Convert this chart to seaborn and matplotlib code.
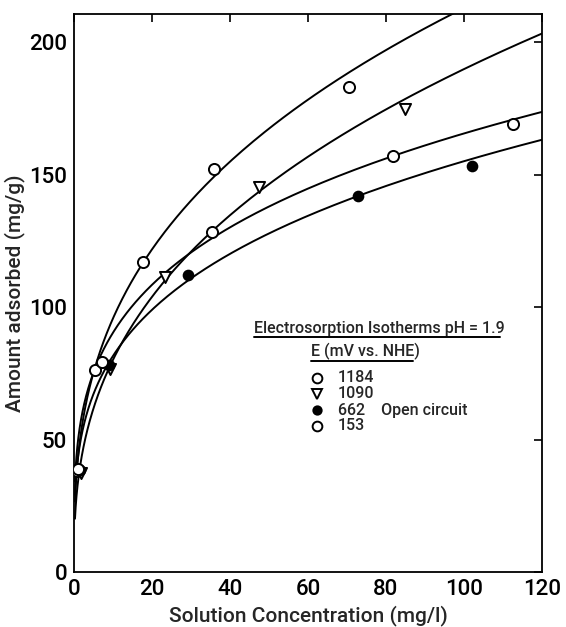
import numpy as np
import pandas as pd
import matplotlib
matplotlib.use("Agg")
import matplotlib.pyplot as plt
import seaborn as sns

# ---- data ----
c_1184 = [0.8, 5.5, 17.8, 35.9, 70.5]
q_1184 = [38.0, 76.2, 116.9, 152.0, 183.1]
c_1090 = [1.8, 9.3, 23.3, 47.4, 84.9]
q_1090 = [37.5, 76.5, 111.4, 145.4, 174.7]
c_662 = [1.5, 8.9, 29.3, 72.7, 102.0]
q_662 = [38.5, 78.0, 112.2, 142.0, 153.2]
c_153 = [1.0, 7.3, 35.3, 81.7, 112.6]
q_153 = [39.0, 79.1, 128.2, 157.0, 168.9]

potentials = ["1184", "1090", "662", "153"]
# Freundlich-type isotherm curves q = K * C**n
fit_K = [43.06, 33.8, 42.9, 49.3]
fit_n = [0.347, 0.3747, 0.279, 0.263]

x_ticks = [0, 20, 40, 60, 80, 100, 120]
y_ticks = [0, 50, 100, 150, 200]

legend_title = "Electrosorption Isotherms pH = 1.9"
legend_subtitle = "E (mV vs. NHE)"
legend_labels = ["1184", "1090", "662    Open circuit", "153"]

# ---- styling ----
sns.set_style("white")
plt.rcParams["font.family"] = ["Roboto", "DejaVu Sans"]
plt.rcParams["font.weight"] = "medium"
plt.rcParams["axes.labelweight"] = "medium"

points = pd.concat([
    pd.DataFrame({"C": c, "q": q, "E": e})
    for c, q, e in zip([c_1184, c_1090, c_662, c_153],
                       [q_1184, q_1090, q_662, q_153], potentials)
])

markers = {"1184": "o", "1090": "v", "662": "o", "153": "o"}
faces = {"1184": "white", "1090": "white", "662": "black", "153": "white"}
sizes = {"1184": 8, "1090": 8, "662": 7, "153": 8}

fig = plt.figure(figsize=(5.66, 6.27), dpi=100)
ax = fig.add_axes([74 / 566, 1 - 572 / 627, 468 / 566, 558 / 627])

# fitted curves
grid = np.geomspace(0.25, 120, 400)
curves = pd.concat([
    pd.DataFrame({"C": grid, "q": k * grid ** n, "E": e})
    for k, n, e in zip(fit_K, fit_n, potentials)
])
sns.lineplot(data=curves, x="C", y="q", units="E", estimator=None,
             color="black", lw=1.4, ax=ax, legend=False, sort=False)

for e in potentials:
    sub = points[points["E"] == e]
    sns.scatterplot(data=sub, x="C", y="q", marker=markers[e],
                    s=sizes[e] ** 2, facecolor=faces[e], edgecolor="black",
                    linewidth=1.4, ax=ax, legend=False, zorder=5)

ax.set_xlim(0, 120)
ax.set_ylim(0, 210.6)
ax.set_xticks(x_ticks)
ax.set_yticks(y_ticks)
ax.set_xticklabels([str(t) for t in x_ticks])
ax.set_yticklabels([str(t) for t in y_ticks])
ax.tick_params(direction="in", length=6, width=1.2, top=True, right=True,
               labelsize=16, pad=5, colors="black")
for s in ax.spines.values():
    s.set_visible(True)
    s.set_color("black")
    s.set_linewidth(1.3)

ax.set_xlabel("Solution Concentration (mg/l)", fontsize=15, labelpad=4)
ax.set_ylabel("Amount adsorbed (mg/g)", fontsize=15, labelpad=3)

# ---- hand-made legend block ----
tr = ax.transAxes
ax.text(0.385, 0.428, legend_title, transform=tr, fontsize=11.5,
        ha="left", va="baseline")
ax.plot([0.385, 0.91], [0.421, 0.421], transform=tr, color="black", lw=1.4,
        clip_on=False)
ax.text(0.506, 0.386, legend_subtitle, transform=tr, fontsize=11.5,
        ha="left", va="baseline")
ax.plot([0.506, 0.724], [0.379, 0.379], transform=tr, color="black", lw=1.4,
        clip_on=False)
row_y = [0.348, 0.319, 0.290, 0.262]
for e, lab, yy in zip(potentials, legend_labels, row_y):
    ax.plot([0.519], [yy], transform=tr, marker=markers[e],
            markersize=sizes[e] - 1, markerfacecolor=faces[e],
            markeredgecolor="black", markeredgewidth=1.4, ls="none")
    ax.text(0.564, yy, lab, transform=tr, fontsize=11.5, ha="left",
            va="center")

fig.savefig("out.png", dpi=100)
